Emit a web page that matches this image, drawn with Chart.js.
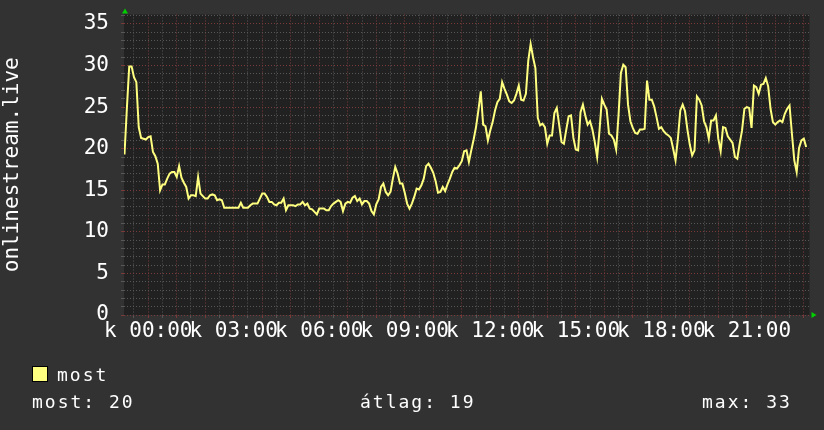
<!DOCTYPE html>
<html>
<head>
<meta charset="utf-8">
<script src="https://cdn.jsdelivr.net/npm/chart.js@4/dist/chart.umd.min.js"></script>
<style>
html,body{margin:0;padding:0;background:#323232;}
#wrap{position:relative;width:824px;height:430px;background:#323232;overflow:hidden;}
#c{position:absolute;left:0;top:0;}
.leg{position:absolute;font-family:"DejaVu Sans Mono",monospace;font-size:18px;line-height:18px;letter-spacing:2px;color:#fff;white-space:pre;}
#sw{position:absolute;left:32px;top:366px;width:14px;height:14px;background:#ffff80;border:1px solid #000;}
</style>
</head>
<body>
<div id="wrap">
<canvas id="c" width="824" height="430"></canvas>
<div id="sw"></div>
<div class="leg" style="left:57px;top:366px;">most</div>
<div class="leg" style="left:32px;top:393px;">most: 20</div>
<div class="leg" style="left:360px;top:393px;">átlag: 19</div>
<div class="leg" style="left:702px;top:393px;">max: 33</div>
</div>
<script>
// 5-minute samples, first sample at 23:10 of the previous day (-50 min from 00:00)
const startMinute = -50;
const stepMinutes = 5;
const seriesName = 'most';
const axisTitle = 'onlinestream.live';
const dayPrefix = 'k';
const values = [
19.3,24.8,29.9,29.9,28.6,28.0,22.6,21.3,21.2,21.1,21.4,21.5,19.6,19.1,18.2,15.0,
15.7,15.7,16.4,17.0,17.2,17.2,16.6,17.9,16.5,15.9,15.4,14.0,14.4,14.4,14.3,16.6,
14.6,14.3,14.0,14.0,14.4,14.5,14.4,13.8,13.9,13.8,12.9,12.9,12.9,12.9,12.9,12.9,
12.9,13.5,12.9,12.9,12.9,13.2,13.4,13.4,13.4,14.0,14.6,14.6,14.2,13.6,13.6,13.3,
13.2,13.5,13.5,14.0,12.6,13.2,13.2,13.2,13.1,13.3,13.3,13.6,13.2,13.4,12.8,12.7,
12.4,12.1,12.8,12.8,12.8,12.6,12.6,13.1,13.4,13.6,13.8,13.6,12.5,13.4,13.6,13.5,
14.1,14.3,13.7,14.0,13.3,13.7,13.7,13.4,12.5,12.1,13.3,13.9,15.4,15.8,14.8,14.4,
14.8,16.4,17.8,17.0,15.8,15.8,14.7,13.4,12.8,13.4,14.2,15.2,15.1,15.6,16.4,17.9,
18.2,17.7,17.1,16.1,14.7,14.8,15.4,14.9,15.7,16.4,17.2,17.7,17.6,18.0,18.5,19.7,
19.8,18.4,19.8,21.1,22.6,24.6,26.9,22.9,22.7,21.0,22.2,23.2,24.6,25.6,26.0,28.0,
27.2,26.5,25.7,25.5,25.8,26.6,27.6,25.9,25.8,26.6,30.6,32.6,31.0,29.7,23.7,22.8,
23.0,22.6,20.6,21.6,21.6,24.3,24.9,22.9,20.8,20.6,22.3,23.9,24.0,21.3,19.9,19.8,
24.4,25.3,24.0,22.9,23.3,22.3,20.8,19.0,22.2,26.0,25.3,24.7,21.8,21.6,21.1,19.9,
24.0,29.1,30.1,29.8,25.3,23.3,22.5,21.9,21.8,22.3,22.3,22.4,28.2,25.9,25.9,25.1,
23.8,22.4,22.6,22.1,21.8,21.6,21.3,20.0,18.6,21.2,24.6,25.3,24.5,22.3,20.5,19.2,
19.8,26.3,25.9,25.2,23.3,22.6,21.2,23.4,23.4,24.0,21.2,19.7,22.6,22.5,21.5,21.1,
20.7,19.0,18.8,20.6,22.2,24.8,25.0,24.9,22.5,27.6,27.4,26.6,27.7,27.8,28.5,27.5,
24.8,23.2,22.9,23.2,23.4,23.2,24.2,24.8,25.2,21.8,18.6,17.2,20.1,21.0,21.2,20.2
];
const times = values.map((v, i) => startMinute + i * stepMinutes);
const yTickLabels = [0, 5, 10, 15, 20, 25, 30, 35];
const xLabelHours = [0, 3, 6, 9, 12, 15, 18, 21];

const points = values.map((v, i) => ({x: times[i], y: v}));
const MAJOR = '#7a3a3a', MINOR = '#575757';
const FONT = {family: 'DejaVu Sans Mono', size: 21};

const deco = {
  id: 'deco',
  beforeDraw(chart) {
    const {ctx, chartArea: a} = chart;
    ctx.save();
    ctx.fillStyle = '#212121';
    ctx.fillRect(a.left, a.top, a.right - a.left, a.bottom - a.top);
    ctx.restore();
  },
  afterDraw(chart) {
    const {ctx, chartArea: a} = chart;
    ctx.save();
    ctx.fillStyle = '#00d000';
    ctx.beginPath();
    ctx.moveTo(a.left + 1, a.top - 6);
    ctx.lineTo(a.left - 2, a.top - 1);
    ctx.lineTo(a.left + 4, a.top - 1);
    ctx.closePath(); ctx.fill();
    ctx.beginPath();
    ctx.moveTo(a.right + 7, a.bottom);
    ctx.lineTo(a.right + 2, a.bottom - 3);
    ctx.lineTo(a.right + 2, a.bottom + 3);
    ctx.closePath(); ctx.fill();
    ctx.restore();
  }
};

new Chart(document.getElementById('c'), {
  type: 'line',
  data: {datasets: [{label: seriesName, data: points, borderColor: '#ffff80', borderWidth: 2,
    pointRadius: 0, tension: 0, fill: false}]},
  options: {
    responsive: false, animation: false, parsing: true,
    layout: {padding: {top: 14.5, right: 14.5, left: 0, bottom: 0}},
    plugins: {legend: {display: false}, tooltip: {enabled: false}},
    scales: {
      x: {
        type: 'linear', min: -51, max: 1392,
        afterBuildTicks(s) { const t = []; for (let m = -30; m <= 1380; m += 30) t.push({value: m}); s.ticks = t; },
        afterFit(s) { s.height = 115; s.paddingLeft = 0; s.paddingRight = 0; },
        ticks: {autoSkip: false, maxRotation: 0, minRotation: 0, color: '#fff', font: FONT, padding: 1,
          callback: (v) => (v % 60 === 0 && xLabelHours.includes(v / 60)) ? dayPrefix + ' ' + String(v / 60).padStart(2, '0') + ':00' : ''},
        grid: {color: c => (c.tick && c.tick.value % 60 === 0) ? MAJOR : MINOR, tickLength: 3, lineWidth: 1},
        border: {display: false, dash: [1, 2]}
      },
      y: {
        type: 'linear', min: 0, max: 36.14,
        afterBuildTicks(s) { const t = []; for (let v = 0; v <= 36; v++) t.push({value: v}); s.ticks = t; },
        afterFit(s) { s.width = 124; s.paddingTop = 0; s.paddingBottom = 0; },
        ticks: {autoSkip: false, color: '#fff', font: FONT, padding: 12,
          callback: (v) => yTickLabels.includes(v) ? String(v) : ''},
        grid: {color: c => (c.tick && c.tick.value % 5 === 0) ? MAJOR : MINOR, tickLength: 3, lineWidth: 1},
        border: {display: false, dash: [1, 2]},
        title: {display: true, text: axisTitle, color: '#fff', font: FONT, padding: {top: 0, bottom: 0}}
      }
    }
  },
  plugins: [deco]
});
</script>
</body>
</html>
